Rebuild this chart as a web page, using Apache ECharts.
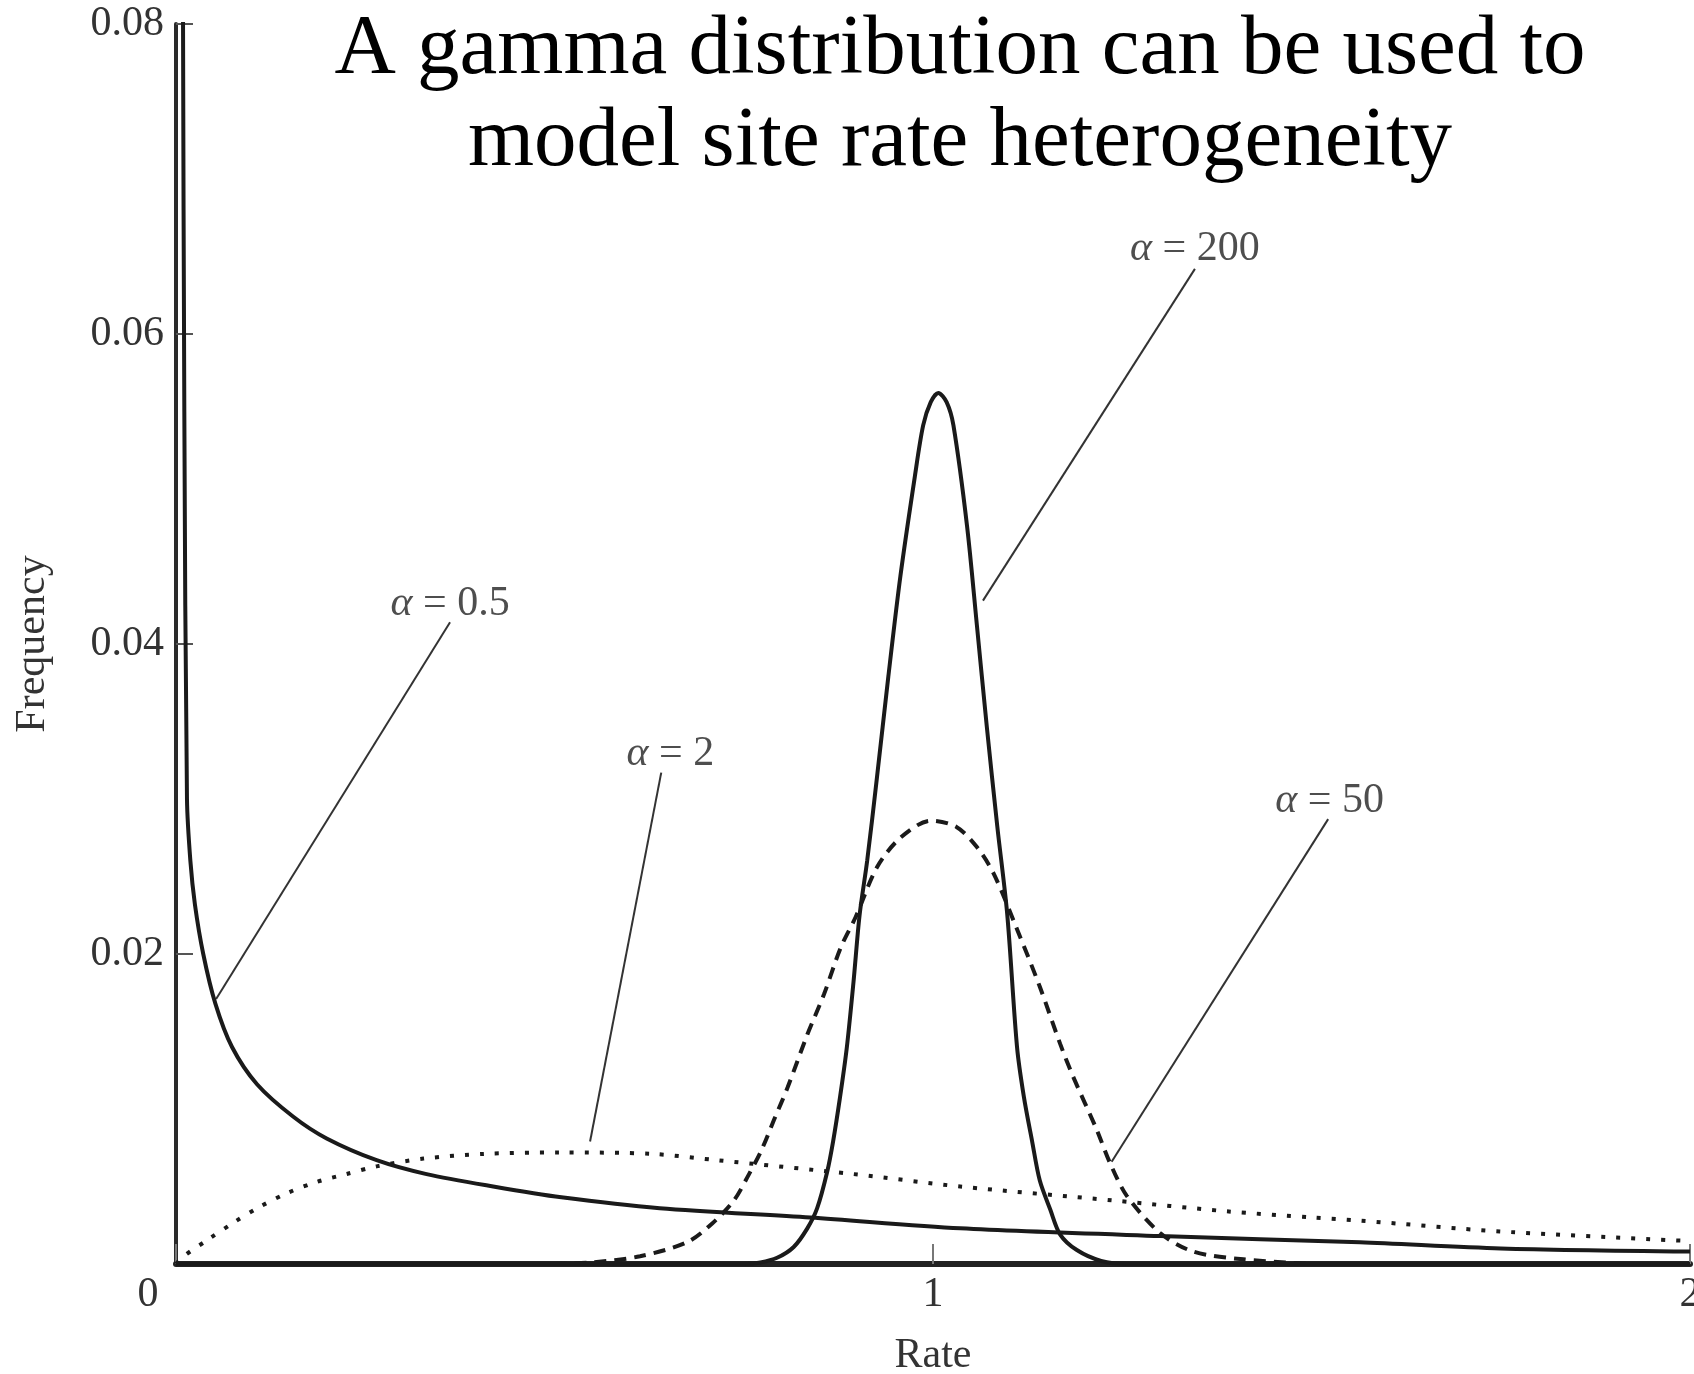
<!DOCTYPE html>
<html>
<head>
<meta charset="utf-8">
<script src="https://cdn.jsdelivr.net/npm/echarts@6/dist/echarts.min.js"></script>
<style>
  html, body { margin: 0; padding: 0; background: #fff; }
  #main { width: 1694px; height: 1374px; }
</style>
</head>
<body>
<div id="main"></div>
<script>
// values (rate, frequency)
var rateA05 = [0.009, 0.011, 0.0145, 0.019, 0.025, 0.036, 0.052, 0.074, 0.107, 0.155, 0.199, 0.265, 0.331, 0.419, 0.509, 0.639, 0.838, 1.036, 1.300, 1.564, 1.750, 2.0];
var freqA05 = [0.085, 0.055, 0.030, 0.026, 0.0232, 0.0200, 0.0168, 0.0140, 0.0116, 0.0095, 0.0081, 0.0067, 0.0058, 0.0050, 0.0043, 0.0036, 0.0030, 0.0023, 0.0018, 0.0014, 0.0010, 0.0008];

var rateA2 = [0, 0.010, 0.043, 0.077, 0.111, 0.148, 0.186, 0.225, 0.265, 0.327, 0.406, 0.507, 0.630, 0.714, 0.895, 1.036, 1.238, 1.388, 1.502, 1.564, 1.749, 1.991];
var freqA2 = [0, 0.0005, 0.0016, 0.0027, 0.0037, 0.0046, 0.0053, 0.0058, 0.0063, 0.0068, 0.0071, 0.0072, 0.0071, 0.0067, 0.0058, 0.0050, 0.0041, 0.0034, 0.0030, 0.0028, 0.0021, 0.0015];

var rateA50 = [0.50, 0.55, 0.613, 0.675, 0.708, 0.737, 0.757, 0.773, 0.790, 0.808, 0.834, 0.856, 0.878, 0.898, 0.926, 0.957, 0.997, 1.031, 1.058, 1.080, 1.111, 1.141, 1.168, 1.185, 1.216, 1.234, 1.256, 1.300, 1.344, 1.410, 1.50];
var freqA50 = [0, 0.0001, 0.0005, 0.0014, 0.0026, 0.0041, 0.0058, 0.0073, 0.0093, 0.0114, 0.0148, 0.0174, 0.0204, 0.0224, 0.0256, 0.0275, 0.0286, 0.0282, 0.0269, 0.0252, 0.0216, 0.0179, 0.0142, 0.0121, 0.0087, 0.0065, 0.0044, 0.0020, 0.0008, 0.0003, 0];

var rateA200 = [0, 0.75, 0.772, 0.794, 0.816, 0.834, 0.847, 0.860, 0.868, 0.877, 0.886, 0.895, 0.903, 0.913, 0.926, 0.941, 0.957, 0.976, 0.987, 0.997, 1.007, 1.018, 1.027, 1.045, 1.058, 1.071, 1.085, 1.098, 1.111, 1.120, 1.131, 1.141, 1.155, 1.168, 1.190, 1.222, 1.256, 2.0];
var freqA200 = [0, 0, 0.0001, 0.0004, 0.0011, 0.0023, 0.0036, 0.0059, 0.0079, 0.0107, 0.0139, 0.0182, 0.0225, 0.0260, 0.0314, 0.0379, 0.0444, 0.0508, 0.0541, 0.0556, 0.0562, 0.0556, 0.0541, 0.0476, 0.0412, 0.0347, 0.0282, 0.0226, 0.0140, 0.0108, 0.0079, 0.0054, 0.0035, 0.0019, 0.0009, 0.0002, 0, 0];

// curve labels and their leader lines, in data units
var labelText = ['0.5', '2', '200', '50'];
var labelRate = [0.362, 0.653, 1.346, 1.524];
var labelFreq = [0.0426, 0.0329, 0.0655, 0.0299];
var leaderFrom = [[0.362, 0.0414], [0.641, 0.0317], [1.346, 0.0642], [1.522, 0.0287]];
var leaderTo = [[0.053, 0.0171], [0.547, 0.0079], [1.066, 0.0428], [1.236, 0.0066]];

var xTicks = ['0', '1', '2'];

function zip(xs, ys) {
  return xs.map(function (x, i) { return [x, ys[i]]; });
}

var serif = 'Liberation Serif';
var ink = '#1a1a1a';

var myChart = echarts.init(document.getElementById('main'));
myChart.setOption({
  backgroundColor: '#fff',
  animation: false,
  title: {
    text: 'A gamma distribution can be used to\nmodel site rate heterogeneity',
    left: 960,
    top: 5,
    padding: 0,
    textAlign: 'center',
    textStyle: {
      fontFamily: serif,
      fontSize: 85,
      fontWeight: 'normal',
      color: '#000',
      lineHeight: 92
    }
  },
  grid: {
    left: 176, right: 4, top: 24, bottom: 110,
    containLabel: false,
    outerBoundsMode: 'none'
  },
  xAxis: {
    type: 'value',
    min: 0,
    max: 2,
    interval: 1,
    name: 'Rate',
    nameLocation: 'middle',
    nameGap: 71,
    nameTextStyle: { fontFamily: serif, fontSize: 42, color: '#333' },
    axisLine: { lineStyle: { color: '#222', width: 6 } },
    axisTick: { inside: true, length: 20, lineStyle: { color: '#777', width: 2 } },
    axisLabel: {
      margin: 10,
      fontFamily: serif,
      fontSize: 42,
      color: '#333',
      formatter: function (v) {
        var t = xTicks[Math.round(v)];
        return v === 0 ? '{z|' + t + '}' : t;
      },
      rich: {
        z: { fontFamily: serif, fontSize: 42, color: '#333', padding: [0, 56, 0, 0] }
      }
    },
    splitLine: { show: false }
  },
  yAxis: {
    type: 'value',
    min: 0,
    max: 0.08,
    interval: 0.02,
    name: 'Frequency',
    nameLocation: 'middle',
    nameRotate: 90,
    nameGap: 122,
    nameTextStyle: { fontFamily: serif, fontSize: 42, color: '#333' },
    axisLine: { lineStyle: { color: '#2a2a2a', width: 4 } },
    axisTick: { inside: true, length: 17, lineStyle: { color: '#555', width: 2 } },
    axisLabel: {
      margin: 12,
      fontFamily: serif,
      fontSize: 42,
      color: '#333',
      formatter: function (v) { return v === 0 ? '' : v.toFixed(2); }
    },
    splitLine: { show: false }
  },
  series: [
    {
      name: 'α = 2',
      type: 'line',
      data: zip(rateA2, freqA2),
      smooth: 0.3,
      symbol: 'none',
      lineStyle: { color: ink, width: 4, type: [4, 11] }
    },
    {
      name: 'α = 50',
      type: 'line',
      data: zip(rateA50, freqA50),
      smooth: 0.3,
      symbol: 'none',
      lineStyle: { color: ink, width: 4, type: [12, 8] }
    },
    {
      name: 'α = 0.5',
      type: 'line',
      data: zip(rateA05, freqA05),
      smooth: 0.3,
      symbol: 'none',
      lineStyle: { color: ink, width: 4 }
    },
    {
      name: 'α = 200',
      type: 'line',
      data: zip(rateA200, freqA200),
      smooth: 0.3,
      symbol: 'none',
      lineStyle: { color: ink, width: 4 }
    },
    {
      name: 'leaders',
      type: 'lines',
      coordinateSystem: 'cartesian2d',
      silent: true,
      lineStyle: { color: '#333', width: 2, opacity: 1 },
      data: leaderFrom.map(function (p, i) { return { coords: [p, leaderTo[i]] }; })
    },
    {
      name: 'labels',
      type: 'scatter',
      silent: true,
      symbolSize: 1,
      itemStyle: { color: 'rgba(0,0,0,0)' },
      label: {
        show: true,
        position: 'inside',
        fontFamily: serif,
        fontSize: 42,
        color: '#222',
        formatter: function (p) { return '{a|α} = ' + labelText[p.dataIndex]; },
        rich: {
          a: { fontFamily: serif, fontSize: 42, fontStyle: 'italic', color: '#222' }
        }
      },
      data: zip(labelRate, labelFreq)
    }
  ]
});
</script>
</body>
</html>
